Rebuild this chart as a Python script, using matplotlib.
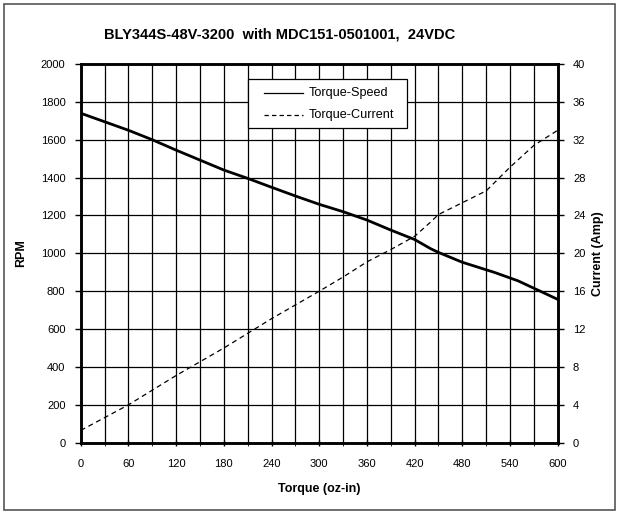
import matplotlib
matplotlib.use("Agg")
import matplotlib.pyplot as plt
from matplotlib.patches import Rectangle

plt.rcParams['font.family'] = ['Liberation Sans', 'DejaVu Sans']

# data
torque_speed = [0, 60, 90, 120, 180, 210, 240, 270, 300, 330, 360, 390, 420, 440, 450,
                480, 520, 550, 600]
rpm = [1740, 1650, 1600, 1545, 1440, 1396, 1349, 1303, 1259, 1220, 1176, 1123, 1073,
       1025, 1005, 953, 900, 855, 757]

torque_cur = [0, 60, 120, 180, 240, 300, 330, 360, 390, 420, 440, 450, 510, 540, 570, 600]
amps = [1.3, 4.0, 7.1, 10.0, 13.1, 16.0, 17.5, 19.1, 20.4, 21.8, 23.3, 24.1, 26.6,
        29.1, 31.4, 33.0]

x_ticks = list(range(0, 601, 60))
rpm_ticks = list(range(0, 2001, 200))
amp_ticks = list(range(0, 41, 4))
legend_labels = ['Torque-Speed', 'Torque-Current']

fig = plt.figure(figsize=(6.19, 5.16), dpi=100)
fig.patches.append(Rectangle((0.006, 0.012), 0.988, 0.98, transform=fig.transFigure,
                             fill=False, edgecolor='#555555', linewidth=1.2))

ax = fig.add_axes([0.1304, 0.142, 0.7706, 0.734])
ax2 = ax.twinx()

ax.set_xlim(0, 600)
ax.set_ylim(0, 2000)
ax2.set_ylim(0, 40)

ax.set_xticks(x_ticks)
ax.set_xticks(range(0, 601, 30), minor=True)
ax.set_yticks(rpm_ticks)
ax2.set_yticks(amp_ticks)

ax.grid(True, which='both', axis='x', color='black', linewidth=0.9)
ax.grid(True, which='major', axis='y', color='black', linewidth=0.9)

ax.plot(torque_speed, rpm, color='black', linewidth=2.0)
ax2.plot(torque_cur, amps, color='black', linewidth=0.9, linestyle=(0, (4, 3)))

for a in (ax, ax2):
    for s in a.spines.values():
        s.set_linewidth(1.8)
    a.tick_params(labelsize=8, length=4, width=1, pad=7)
ax.tick_params(axis='x', which='both', direction='inout', length=5, pad=9)
ax.tick_params(axis='x', which='minor', length=4)

ax.set_xlabel('Torque (oz-in)', fontsize=9, fontweight='bold', labelpad=10)
ax.set_ylabel('RPM', fontsize=9, fontweight='bold', labelpad=10)
ax2.set_ylabel('Current (Amp)', fontsize=9, fontweight='bold', labelpad=5)
fig.text(0.452, 0.934, 'BLY344S-48V-3200  with MDC151-0501001,  24VDC', fontsize=10.5,
         fontweight='bold', ha='center', va='center')

ax.set_zorder(ax2.get_zorder() + 1)
ax.patch.set_visible(False)

# legend drawn by hand so the padding matches
ax.add_patch(Rectangle((0.3507, 0.831), 0.3338, 0.1294, transform=ax.transAxes,
                       facecolor='white', edgecolor='black', linewidth=0.9, zorder=5))
styles = ['-', (0, (3.5, 2.5))]
for row, (lab, ls) in enumerate(zip(legend_labels, styles)):
    yy = 0.9234 - row * 0.0581
    ax.plot([0.3843, 0.4661], [yy, yy], transform=ax.transAxes, color='black',
            linewidth=0.9, linestyle=ls, zorder=6, clip_on=False)
    ax.text(0.4786, yy, lab, transform=ax.transAxes, fontsize=9.1, va='center',
            ha='left', zorder=6)

fig.savefig('out.png', dpi=100)
